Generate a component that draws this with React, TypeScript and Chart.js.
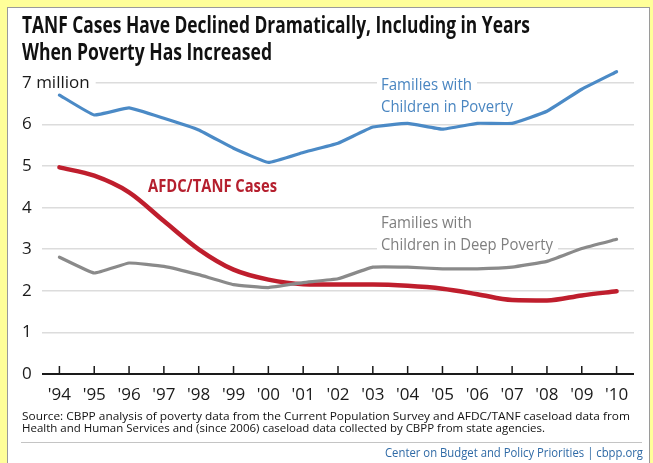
import React, { useEffect, useLayoutEffect, useRef } from 'react';
import { Chart, registerables } from 'chart.js';

Chart.register(...registerables);

// ---- Data ----
const yearLabels = ["'94", "'95", "'96", "'97", "'98", "'99", "'00", "'01", "'02", "'03", "'04", "'05", "'06", "'07", "'08", "'09", "'10"];
const povertyFamilies = [6.71, 6.23, 6.40, 6.15, 5.87, 5.43, 5.09, 5.33, 5.55, 5.94, 6.03, 5.89, 6.03, 6.03, 6.32, 6.85, 7.27];
const deepPovertyFamilies = [2.81, 2.43, 2.67, 2.59, 2.39, 2.15, 2.08, 2.20, 2.29, 2.57, 2.57, 2.53, 2.53, 2.57, 2.71, 3.02, 3.24];
const afdcTanfCases = [4.97, 4.77, 4.37, 3.68, 3.00, 2.51, 2.27, 2.16, 2.15, 2.15, 2.12, 2.05, 1.92, 1.78, 1.77, 1.89, 1.99];
const yTickTop = 7;
const yTickUnit = 'million';

const FONT = '"Open Sans", "Noto Sans", "DejaVu Sans", sans-serif';

type SeriesLabel = { lines: string[]; x: number; baselines: number[]; widths: number[]; color: string; bold: boolean; size: number };
const seriesLabels: SeriesLabel[] = [
  { lines: ['Families with', 'Children in Poverty'], x: 381, baselines: [90, 112], widths: [91, 132], color: '#4a86c1', bold: false, size: 17 },
  { lines: ['Families with', 'Children in Deep Poverty'], x: 381, baselines: [228, 250], widths: [91, 172], color: '#7f7f7f', bold: false, size: 17 },
  { lines: ['AFDC/TANF Cases'], x: 148, baselines: [192], widths: [129], color: '#b51f2e', bold: true, size: 17 },
];

const labelPlugin = {
  id: 'seriesLabels',
  beforeDatasetsDraw(chart: any) {
    const ctx = chart.ctx as CanvasRenderingContext2D;
    ctx.save();
    for (const s of seriesLabels) {
      ctx.font = `${s.bold ? 'bold ' : ''}${s.size}px ${FONT}`;
      s.lines.forEach((line, i) => {
        const w = ctx.measureText(line).width;
        const sx = s.widths[i] / w;
        ctx.fillStyle = '#ffffff';
        ctx.fillRect(s.x - 4, s.baselines[i] - 14, s.widths[i] + 9, 19);
        ctx.save();
        ctx.translate(s.x, s.baselines[i]);
        ctx.scale(sx, 1);
        ctx.fillStyle = s.color;
        ctx.textBaseline = 'alphabetic';
        ctx.textAlign = 'left';
        ctx.fillText(line, 0, 0);
        ctx.restore();
      });
    }
    ctx.restore();
  },
  afterDraw(chart: any) {
    const ctx = chart.ctx as CanvasRenderingContext2D;
    const xs = chart.scales.x;
    const bottom = chart.chartArea.bottom;
    ctx.save();
    ctx.strokeStyle = '#1a1a1a';
    ctx.lineWidth = 1.5;
    xs.ticks.forEach((_t: any, i: number) => {
      const px = xs.getPixelForTick(i);
      ctx.beginPath();
      ctx.moveTo(px, bottom - 8);
      ctx.lineTo(px, bottom);
      ctx.stroke();
    });
    ctx.restore();
  },
};

function FitText({ text, x, baseline, width, style }: { text: string; x: number; baseline: number; width: number; style: React.CSSProperties }) {
  const ref = useRef<HTMLDivElement>(null);
  const probe = useRef<HTMLSpanElement>(null);
  useLayoutEffect(() => {
    const el = ref.current;
    const p = probe.current;
    if (!el || !p) return;
    el.style.transform = 'none';
    el.style.top = '0px';
    const r = el.getBoundingClientRect();
    const pr = p.getBoundingClientRect();
    const baseOff = pr.bottom - r.top;
    el.style.top = `${baseline - baseOff}px`;
    if (r.width > 0) el.style.transform = `scaleX(${width / r.width})`;
  }, [text, x, baseline, width]);
  return (
    <div ref={ref} style={{ ...style, position: 'absolute', left: x, top: 0, whiteSpace: 'nowrap', transformOrigin: 'left top' }}>
      {text}
      <span ref={probe} style={{ display: 'inline-block', width: 0, height: 0, verticalAlign: 'baseline' }} />
    </div>
  );
}

export default function App() {
  const canvasRef = useRef<HTMLCanvasElement>(null);

  useEffect(() => {
    const canvas = canvasRef.current;
    if (!canvas) return;
    const chart = new Chart(canvas, {
      type: 'line',
      data: {
        labels: yearLabels,
        datasets: [
          { label: 'Families with Children in Poverty', data: povertyFamilies, borderColor: '#4b8ac6', borderWidth: 3.2, pointRadius: 0, tension: 0.1, clip: false as any, borderJoinStyle: 'round', borderCapStyle: 'round' },
          { label: 'Families with Children in Deep Poverty', data: deepPovertyFamilies, borderColor: '#8a8a8a', borderWidth: 3.2, pointRadius: 0, tension: 0.1, clip: false as any, borderJoinStyle: 'round', borderCapStyle: 'round' },
          { label: 'AFDC/TANF Cases', data: afdcTanfCases, borderColor: '#bf1e2d', borderWidth: 4.5, pointRadius: 0, cubicInterpolationMode: 'monotone', clip: false as any, borderJoinStyle: 'round', borderCapStyle: 'round' },
        ],
      },
      options: {
        responsive: false,
        animation: false,
        events: [],
        layout: { padding: { left: 22, right: 19, top: 83, bottom: 0 } },
        plugins: { legend: { display: false }, tooltip: { enabled: false }, title: { display: false } },
        scales: {
          x: {
            type: 'category',
            offset: true,
            grid: { display: false, drawTicks: false },
            border: { display: false },
            ticks: { font: { family: FONT, size: 17 }, color: '#1a1a1a', padding: 11, maxRotation: 0, autoSkip: false },
            afterFit: (s: any) => { s.height = 89; },
          },
          y: {
            min: 0,
            max: yTickTop,
            ticks: {
              stepSize: 1,
              callback: (v: any) => (v === yTickTop ? `${v} ${yTickUnit}` : String(v)),
              mirror: true,
              crossAlign: 'near',
              padding: -20,
              font: { family: FONT, size: 17 },
              color: '#1a1a1a',
              showLabelBackdrop: true,
              backdropColor: '#ffffff',
              backdropPadding: { left: 0, right: 6, top: 0, bottom: 0 },
            } as any,
            grid: {
              color: (c: any) => (c.tick && c.tick.value === 0 ? '#1a1a1a' : '#dcdcdc'),
              lineWidth: (c: any) => (c.tick && c.tick.value === 0 ? 2 : 1.6),
              drawTicks: false,
            },
            border: { display: false },
            afterFit: (s: any) => { s.width = 20; },
          },
        },
      },
      plugins: [labelPlugin],
    });
    return () => chart.destroy();
  }, []);

  const titleStyle: React.CSSProperties = { fontFamily: FONT, fontWeight: 'bold', fontSize: 23, lineHeight: '26px', color: '#111' };
  const srcStyle: React.CSSProperties = { fontFamily: FONT, fontSize: 11, lineHeight: '12px', color: '#111' };

  return (
    <div style={{ position: 'fixed', left: 0, top: 0, width: 653, height: 463, background: '#ffff99', overflow: 'hidden' }}>
      <div style={{ position: 'absolute', left: 7, top: 7, width: 641, height: 480, background: '#ffffff', border: '1px solid #9a9a9a' }} />
      <canvas ref={canvasRef} width={653} height={463} style={{ position: 'absolute', left: 0, top: 0, width: 653, height: 463 }} />
      <FitText text="TANF Cases Have Declined Dramatically, Including in Years" x={22} baseline={33} width={508} style={titleStyle} />
      <FitText text="When Poverty Has Increased" x={22} baseline={60} width={250} style={titleStyle} />
      <FitText text="Source: CBPP analysis of poverty data from the Current Population Survey and AFDC/TANF caseload data from" x={22} baseline={420} width={608} style={srcStyle} />
      <FitText text="Health and Human Services and (since 2006) caseload data collected by CBPP from state agencies." x={22} baseline={432} width={523} style={srcStyle} />
      <div style={{ position: 'absolute', left: 21, top: 442, width: 621, height: 1, background: '#c4c4c4' }} />
      <FitText text="Center on Budget and Policy Priorities | cbpp.org" x={385} baseline={457} width={258} style={{ fontFamily: FONT, fontSize: 13, lineHeight: '14px', color: '#2f6aa6' }} />
    </div>
  );
}
